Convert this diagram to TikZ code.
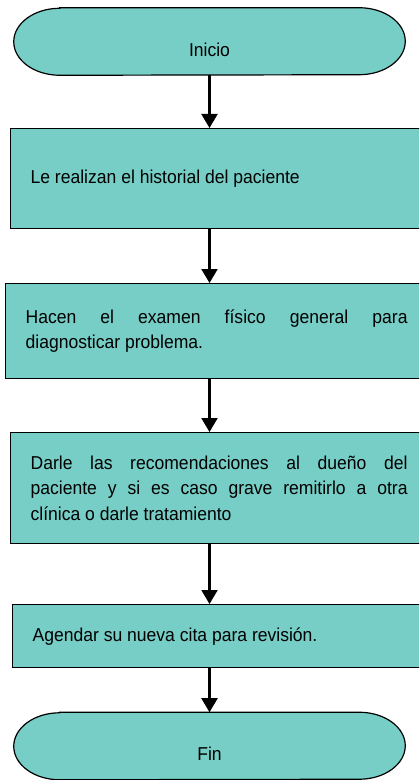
\documentclass[tikz,border=0pt]{standalone}
\usepackage{fontspec}
\setmainfont{Liberation Sans}[FakeStretch=0.94]
\usepackage{xcolor}
\usepackage{tikz}
\usetikzlibrary{positioning, arrows.meta, backgrounds}
\definecolor{turquesa}{RGB}{118,206,198}

% contorno de inicio/fin con extremos elipticos
\newcommand{\contorno}[1]{%
    \draw[line width=0.9pt, fill=turquesa]
        ([xshift=34.5pt]#1.north west) -- ([xshift=-34.5pt]#1.north east)
        arc[start angle=90, end angle=-90, x radius=34.5pt, y radius=25.125pt]
        -- ([xshift=34.5pt]#1.south west)
        arc[start angle=270, end angle=90, x radius=34.5pt, y radius=25.125pt]
        -- cycle;}

\tikzset{
    terminal/.style={rectangle, minimum width=293.25pt, minimum height=50.25pt, inner sep=0pt,
        text height=22pt, text depth=0pt},
    paso/.style={rectangle, draw, fill=turquesa, line width=0.9pt, anchor=north west,
        inner xsep=15pt, inner ysep=0pt, align=justify},
    flecha/.style={-{Triangle[width=12pt, length=10.5pt]}, line width=1.6pt}
}

\begin{document}
\begin{tikzpicture}[x=0.75pt, y=-0.75pt, font=\fontsize{14}{19.1}\selectfont]
    \clip (0,0) rectangle (419,780);

    \node (inicio) [terminal] at (209.5,41.5) {Inicio};
    \node (historial) [paso, text width=285pt, minimum height=75pt] at (10,128) {Le realizan el historial del paciente};
    \node (examen) [paso, text width=286.5pt, minimum height=71.25pt] at (5,283) {Hacen el examen físico general para\linebreak diagnosticar problema.};
    \node (recomendar) [paso, text width=282.75pt, minimum height=83.25pt] at (10,432) {Darle las recomendaciones al dueño del\linebreak paciente y si es caso grave remitirlo a otra\linebreak clínica o darle tratamiento};
    \node (cita) [paso, text width=285pt, minimum height=47.25pt] at (12,604) {Agendar su nueva cita para revisión.};
    \node (fin) [terminal] at (209.5,746) {Fin};

    \begin{scope}[on background layer]
        \fill[white] (0,0) rectangle (419,780);
        \contorno{inicio}
        \contorno{fin}
    \end{scope}

    \draw[flecha] (inicio.south) -- (inicio.south |- historial.north);
    \draw[flecha] (inicio.south |- historial.south) -- (inicio.south |- examen.north);
    \draw[flecha] (inicio.south |- examen.south) -- (inicio.south |- recomendar.north);
    \draw[flecha] (inicio.south |- recomendar.south) -- (inicio.south |- cita.north);
    \draw[flecha] (inicio.south |- cita.south) -- (fin.north);
\end{tikzpicture}
\end{document}
